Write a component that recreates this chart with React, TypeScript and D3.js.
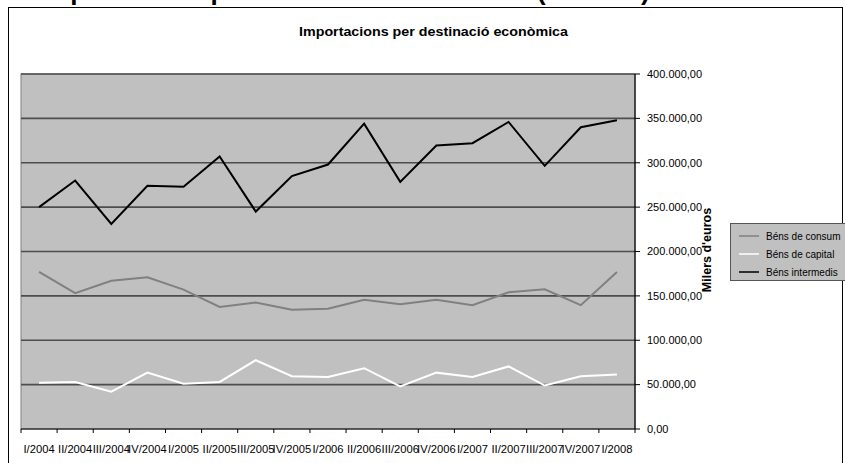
import React from "react";
import * as d3 from "d3";

const categories = ["I/2004","II/2004","III/2004","IV/2004","I/2005","II/2005","III/2005","IV/2005","I/2006","II/2006","III/2006","IV/2006","I/2007","II/2007","III/2007","IV/2007","I/2008"];
const bensConsum = [177000,153000,167000,171000,157000,137500,142500,134500,135500,145500,140500,145500,139500,154000,157500,139500,177000];
const bensCapital = [52000,53000,42000,63500,51000,53000,77500,59500,58500,68500,48000,63500,58500,70500,49000,59500,61500];
const bensIntermedis = [250000,280000,231000,274000,273000,307000,245000,285000,298000,344000,278500,319500,322000,346000,296500,340000,348000];
const yTicks = [0,50000,100000,150000,200000,250000,300000,350000,400000];
const seriesNames = ["Béns de consum","Béns de capital","Béns intermedis"];
const seriesColors = ["#808080","#ffffff","#000000"];

const FONT = "'Liberation Sans', Arial, sans-serif";

export default function App() {
  const W = 845, H = 463;
  const left = 21, right = 635, top = 74, bottom = 429;
  const x = d3.scaleBand<string>().domain(categories).range([left, right]).padding(0);
  const y = d3.scaleLinear().domain([0, 400000]).range([bottom, top]);
  const locale = d3.formatLocale({ decimal: ",", thousands: ".", grouping: [3], currency: ["", "€"] });
  const fmt = locale.format(",.2f");
  const line = d3.line<number>()
    .x((_, i) => (x(categories[i]) as number) + x.bandwidth() / 2)
    .y(d => y(d));
  const series = [bensConsum, bensCapital, bensIntermedis];
  const bw = x.bandwidth();
  const boundaries = d3.range(categories.length + 1).map(i => left + i * bw);

  return (
    <svg width={W} height={H} style={{ position: "absolute", left: 0, top: 0, display: "block" }} fontFamily={FONT}>
      <rect x={0} y={0} width={W} height={H} fill="#ffffff" />
      <text x={40} y={-0.5} fontSize={26} fontWeight="bold" fill="#000">Importacions per destinació econòmica (2004-08)</text>
      <rect x={8.5} y={7.5} width={834} height={470} fill="#ffffff" stroke="#000" strokeWidth={1} />
      <text x={433.5} y={35.5} fontSize={13.5} fontWeight="bold" textAnchor="middle" fill="#000" textLength={269} lengthAdjust="spacingAndGlyphs">Importacions per destinació econòmica</text>
      <rect x={left} y={top} width={right - left} height={bottom - top} fill="#c0c0c0" stroke="#808080" strokeWidth={1} />
      {yTicks.filter(t => t > 0).map(t => (
        <line key={t} x1={left} x2={right} y1={y(t)} y2={y(t)} stroke="#4d4d4d" strokeWidth={1.6} />
      ))}
      {series.map((s, i) => (
        <path key={i} d={line(s) || ""} fill="none" stroke={seriesColors[i]} strokeWidth={2} strokeLinejoin="miter" />
      ))}
      <line x1={right} x2={right} y1={top} y2={bottom} stroke="#000" strokeWidth={1.2} />
      <line x1={left} x2={right} y1={bottom} y2={bottom} stroke="#000" strokeWidth={1.2} />
      {yTicks.map(t => (
        <g key={t}>
          <line x1={right} x2={right + 5} y1={y(t)} y2={y(t)} stroke="#000" strokeWidth={1} />
          <text x={647} y={y(t)} dy="0.35em" fontSize={11} fill="#000">{fmt(t)}</text>
        </g>
      ))}
      {boundaries.map((bx, i) => (
        <line key={i} x1={bx} x2={bx} y1={bottom} y2={bottom + 4} stroke="#000" strokeWidth={1} />
      ))}
      {categories.map(c => (
        <text key={c} x={(x(c) as number) + bw / 2} y={453} fontSize={11.2} textAnchor="middle" fill="#000">{c}</text>
      ))}
      <text transform={`translate(711,250) rotate(-90)`} fontSize={12.5} fontWeight="bold" textAnchor="middle" fill="#000">Milers d'euros</text>
      <rect x={730.5} y={223.5} width={120} height={57} fill="#c0c0c0" stroke="#555555" strokeWidth={1} />
      {seriesNames.map((n, i) => {
        const ly = 236 + i * 18;
        return (
          <g key={n}>
            <line x1={739} x2={759} y1={ly} y2={ly} stroke={seriesColors[i]} strokeWidth={1.5} />
            <text x={766} y={ly} dy="0.35em" fontSize={10} fill="#000">{n}</text>
          </g>
        );
      })}
    </svg>
  );
}
